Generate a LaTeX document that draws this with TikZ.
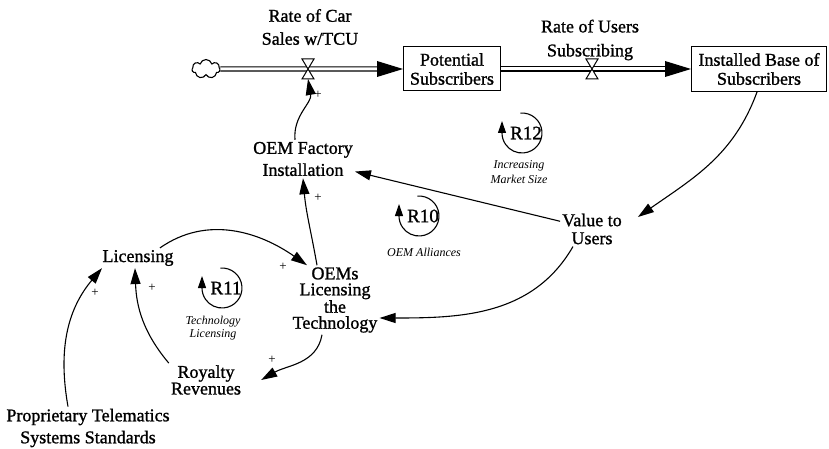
\documentclass[tikz,border=0pt]{standalone}
\usepackage{fontspec}
\setmainfont{Liberation Serif}
\newfontfamily\heavyserif{Liberation Serif}[FakeBold=1.2]
\usetikzlibrary{arrows.meta,shapes.symbols}

\tikzset{
  lbl/.style={align=center, inner sep=2pt, font=\heavyserif\fontsize{18}{#1}\selectfont},
  lbl/.default=22,
  stock/.style={draw, line width=1pt, align=center, inner sep=2pt, font=\heavyserif\fontsize{18}{19}\selectfont},
  loopname/.style={align=center, inner sep=1pt, font=\fontsize{12}{#1}\selectfont\itshape},
  loopname/.default=15,
  looplabel/.style={inner sep=0pt, font=\heavyserif\fontsize{19}{19}\selectfont},
  sign/.style={inner sep=0pt, font=\fontsize{13}{13}\selectfont},
  link/.style={line width=1.1pt, -{Triangle[length=16pt,width=10pt]}},
  pipe/.style={double, double distance=3pt, line width=1.1pt},
  loopcircle/.style={line width=1.1pt, -{Triangle[length=12pt,width=8pt]}},
  valveshape/.style={fill=white, line width=1pt},
}

\begin{document}
\begin{tikzpicture}[x=1pt,y=1pt]
\useasboundingbox (0,0) rectangle (829,-449);

% stocks, source and valves
\node[cloud, draw, line width=1.1pt, cloud puffs=7, aspect=1.5,
      minimum width=28pt, minimum height=19pt, inner sep=0pt] (src) at (206,-69) {};
\node[stock, minimum width=97pt, minimum height=44pt] (pot) at (452,-69) {Potential\\Subscribers};
\node[stock, minimum width=135pt, minimum height=45pt] (inst) at (759,-69) {Installed Base of\\Subscribers};
\coordinate (v1) at (308,-69);
\coordinate (v2) at (592,-69);
\node[lbl=23] (rcar) at (310,-27) {Rate of Car\\Sales w/TCU};
\node[lbl=24] (rusr) at (590,-40) {Rate of Users\\Subscribing};

% flow pipes
\draw[pipe] (src.east) -- ([xshift=-24pt]pot.west);
\fill ([shift={(-26pt,8pt)}]pot.west) -- (pot.west) -- ([shift={(-26pt,-8pt)}]pot.west) -- cycle;
\draw[pipe] (pot.east) -- ([xshift=-24pt]inst.west);
\fill ([shift={(-26pt,8pt)}]inst.west) -- (inst.west) -- ([shift={(-26pt,-8pt)}]inst.west) -- cycle;
\filldraw[valveshape] ([shift={(-6pt,10pt)}]v1) -- ([shift={(6pt,10pt)}]v1)
   -- ([shift={(-6pt,-10pt)}]v1) -- ([shift={(6pt,-10pt)}]v1) -- cycle;
\filldraw[valveshape] ([shift={(-6pt,10pt)}]v2) -- ([shift={(6pt,10pt)}]v2)
   -- ([shift={(-6pt,-10pt)}]v2) -- ([shift={(6pt,-10pt)}]v2) -- cycle;

% auxiliary variables
\node[lbl=22] (fac) at (303,-159) {OEM Factory\\Installation};
\node[lbl=18] (val) at (592,-229) {Value to\\Users};
\node[lbl] (lic) at (138,-258) {Licensing};
\node[lbl=16] (oem) at (335,-300) {OEMs\\Licensing\\the\\Technology};
\node[lbl=15] (roy) at (206,-380) {Royalty\\Revenues};
\node[lbl=22] (prop) at (88,-428) {Proprietary Telematics\\Systems Standards};

% loop markers
\node[looplabel] (r12) at (526,-133) {R12};
\draw[loopcircle] ([xshift=-4pt]r12.center) ++(95:20pt) arc[start angle=95,end angle=-180,radius=20pt] -- ++(0,12pt);
\node[loopname] (n12) at (519,-172) {Increasing\\Market Size};

\node[looplabel] (r10) at (423,-216) {R10};
\draw[loopcircle] ([xshift=-4pt]r10.center) ++(95:20pt) arc[start angle=95,end angle=-180,radius=20pt] -- ++(0,12pt);
\node[loopname] (n10) at (424,-252) {OEM Alliances};

\node[looplabel] (r11) at (226,-288) {R11};
\draw[loopcircle] ([xshift=-4pt]r11.center) ++(95:20pt) arc[start angle=95,end angle=-180,radius=20pt] -- ++(0,12pt);
\node[loopname=13] (n11) at (213,-328) {Technology\\Licensing};

% causal links
\draw[link] ([xshift=-8pt]fac.north) to[out=95,in=-80] ([yshift=-10pt]v1);
\draw[link] ([xshift=-2pt]inst.south) to[out=-110,in=35] ([shift={(14pt,12pt)}]val.east);
\draw[link] (val) -- (fac);
\draw[link] ([xshift=-19pt]val.south) to[out=-120,in=0] ([yshift=-18pt]oem.east);
\draw[link] ([xshift=-18pt]oem.north) to[out=100,in=-85] (fac.south);
\draw[link] ([xshift=22pt]lic.north) to[out=35,in=145] ([xshift=-28pt]oem.north);
\draw[link] ([xshift=-20pt]prop.north) to[out=100,in=-130] ([xshift=-36pt]lic.south);
\draw[link] (roy.north west) to[out=130,in=-88] ([xshift=-3pt]lic.south);
\draw[link] ([xshift=-13pt]oem.south) to[out=-100,in=30] ([xshift=18pt]roy.east);

% polarity signs
\node[sign] (s1) at (318,-95) {+};
\node[sign] (s2) at (318,-198) {+};
\node[sign] (s3) at (283,-267) {+};
\node[sign] (s4) at (152,-288) {+};
\node[sign] (s5) at (95,-293) {+};
\node[sign] (s6) at (272,-360) {+};
\end{tikzpicture}
\end{document}
